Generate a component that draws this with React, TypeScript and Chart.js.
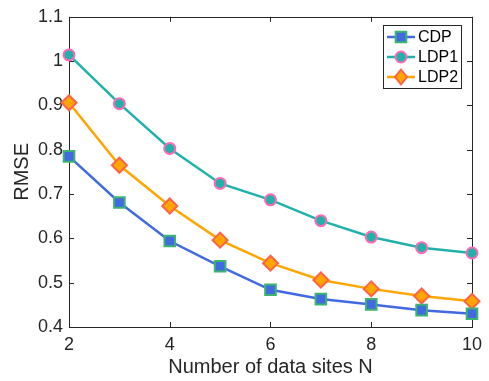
import React, { useEffect, useRef } from "react";
import { Chart, registerables } from "chart.js";

Chart.register(...registerables);

const sites = [2, 3, 4, 5, 6, 7, 8, 9, 10];
const cdp = [0.785, 0.681, 0.594, 0.537, 0.484, 0.463, 0.451, 0.438, 0.430];
const ldp1 = [1.014, 0.904, 0.803, 0.724, 0.687, 0.640, 0.603, 0.579, 0.567];
const ldp2 = [0.906, 0.765, 0.673, 0.596, 0.544, 0.506, 0.486, 0.470, 0.458];
const seriesNames = ["CDP", "LDP1", "LDP2"];
const xTitle = "Number of data sites N";
const yTitle = "RMSE";

const FONT = "'Liberation Sans', Arial, Helvetica, sans-serif";
const AXIS = "#262626";

function drawMarker(ctx: CanvasRenderingContext2D, style: string, x: number, y: number, r: number, fill: string, stroke: string, bw: number) {
  ctx.save();
  ctx.beginPath();
  if (style === "circle") {
    ctx.arc(x, y, r, 0, Math.PI * 2);
  } else if (style === "rect") {
    const h = r * Math.SQRT1_2;
    ctx.rect(x - h, y - h, 2 * h, 2 * h);
  } else {
    ctx.moveTo(x, y - r);
    ctx.lineTo(x + r * 0.8, y);
    ctx.lineTo(x, y + r);
    ctx.lineTo(x - r * 0.8, y);
    ctx.closePath();
  }
  ctx.fillStyle = fill;
  ctx.fill();
  ctx.lineWidth = bw;
  ctx.strokeStyle = stroke;
  ctx.stroke();
  ctx.restore();
}

const framePlugin = {
  id: "frame",
  beforeDatasetsDraw(chart: any) {
    const { ctx, chartArea: a, scales } = chart;
    ctx.save();
    ctx.strokeStyle = AXIS;
    ctx.lineWidth = 1;
    ctx.strokeRect(Math.round(a.left) + 0.5, Math.round(a.top) + 0.5, Math.round(a.right - a.left), Math.round(a.bottom - a.top));
    const tl = 5;
    ctx.beginPath();
    for (const t of scales.x.ticks) {
      const px = Math.round(scales.x.getPixelForValue(t.value)) + 0.5;
      ctx.moveTo(px, a.bottom);
      ctx.lineTo(px, a.bottom - tl);
      ctx.moveTo(px, a.top);
      ctx.lineTo(px, a.top + tl);
    }
    for (const t of scales.y.ticks) {
      const py = Math.round(scales.y.getPixelForValue(t.value)) + 0.5;
      ctx.moveTo(a.left, py);
      ctx.lineTo(a.left + tl, py);
      ctx.moveTo(a.right, py);
      ctx.lineTo(a.right - tl, py);
    }
    ctx.stroke();
    ctx.restore();
  },
  afterDraw(chart: any) {
    const { ctx } = chart;
    const bx = 383.5, by = 25.5, bw = 78, bh = 63;
    ctx.save();
    ctx.fillStyle = "#ffffff";
    ctx.fillRect(bx, by, bw, bh);
    ctx.strokeStyle = AXIS;
    ctx.lineWidth = 1;
    ctx.strokeRect(bx, by, bw, bh);
    const rows = [37, 57, 77];
    chart.data.datasets.forEach((ds: any, i: number) => {
      const y = rows[i];
      ctx.beginPath();
      ctx.moveTo(387, y);
      ctx.lineTo(415, y);
      ctx.strokeStyle = ds.borderColor;
      ctx.lineWidth = ds.borderWidth;
      ctx.stroke();
      drawMarker(ctx, ds.pointStyle === "rectRot" ? "diamond" : ds.pointStyle, 401, y, ds.pointRadius, ds.pointBackgroundColor, ds.pointBorderColor, ds.pointBorderWidth);
      ctx.fillStyle = "#000";
      ctx.font = `16px ${FONT}`;
      ctx.textBaseline = "middle";
      ctx.textAlign = "left";
      ctx.fillText(ds.label, 418, y + 1);
    });
    ctx.restore();
  },
};

export default function App() {
  const ref = useRef<HTMLCanvasElement>(null);
  useEffect(() => {
    const mk = (vals: number[]) => sites.map((x, i) => ({ x, y: vals[i] }));
    const chart = new Chart(ref.current!, {
      type: "line",
      data: {
        datasets: [
          {
            label: seriesNames[0],
            data: mk(cdp),
            borderColor: "#4169E1",
            borderWidth: 2.5,
            pointStyle: "rect",
            pointRadius: 7.5,
            pointBackgroundColor: "#4169E1",
            pointBorderColor: "#3CB371",
            pointBorderWidth: 2,
          },
          {
            label: seriesNames[1],
            data: mk(ldp1),
            borderColor: "#20B2AA",
            borderWidth: 2.5,
            pointStyle: "circle",
            pointRadius: 5.5,
            pointBackgroundColor: "#20B2AA",
            pointBorderColor: "#FF69B4",
            pointBorderWidth: 2,
          },
          {
            label: seriesNames[2],
            data: mk(ldp2),
            borderColor: "#FFA500",
            borderWidth: 2.5,
            pointStyle: "rectRot",
            pointRadius: 7.5,
            pointBackgroundColor: "#FFA500",
            pointBorderColor: "#FF6347",
            pointBorderWidth: 2,
          },
        ] as any,
      },
      options: {
        animation: false,
        responsive: true,
        maintainAspectRatio: false,
        clip: false as any,
        layout: { padding: { top: 16, right: 14, left: 0, bottom: 0 } },
        plugins: { legend: { display: false }, tooltip: { enabled: false } },
        scales: {
          x: {
            type: "linear",
            min: 2,
            max: 10,
            grid: { display: false, drawTicks: false },
            border: { display: false },
            ticks: { stepSize: 2, color: AXIS, font: { family: FONT, size: 18 }, padding: 7 },
            title: { display: true, text: xTitle, color: AXIS, font: { family: FONT, size: 20 }, padding: { top: 0, bottom: 2 } },
            afterFit: (s: any) => { s.height = 54; },
          },
          y: {
            min: 0.4,
            max: 1.1,
            grid: { display: false, drawTicks: false },
            border: { display: false },
            ticks: {
              stepSize: 0.1,
              color: AXIS,
              font: { family: FONT, size: 18 },
              padding: 6,
              callback: (v: any) => String(parseFloat(Number(v).toFixed(1))),
            },
            title: { display: true, text: yTitle, color: AXIS, font: { family: FONT, size: 20 }, padding: { top: 10, bottom: 0 } },
            afterFit: (s: any) => { s.width = 69; },
          },
        },
      },
      plugins: [framePlugin],
    });
    return () => chart.destroy();
  }, []);
  return (
    <div style={{ position: "absolute", left: 0, top: 0, width: 489, height: 381, background: "#fff" }}>
      <canvas ref={ref} />
    </div>
  );
}
